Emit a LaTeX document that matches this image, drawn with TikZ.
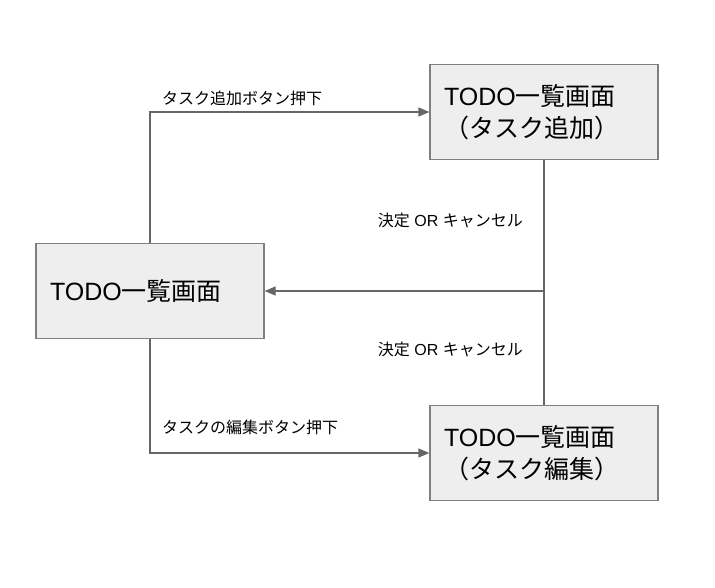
\documentclass[tikz,border=0pt]{standalone}
\usepackage{fontspec}
\setmainfont{Liberation Sans}
\newfontfamily\jp{Noto Sans CJK JP}
\usetikzlibrary{arrows.meta}
\definecolor{boxfill}{HTML}{EEEEEE}
\definecolor{boxline}{HTML}{7F7F7F}
\definecolor{arrline}{HTML}{666666}
\tikzset{
  screen/.style={draw=boxline, line width=1.2pt, fill=boxfill, minimum width=228pt, minimum height=95pt,
    text width=200pt, align=left, inner sep=0pt, font=\fontsize{25}{32}\selectfont},
  conn/.style={draw=arrline, line width=1.2pt},
  arr/.style={conn, -{Triangle[length=11pt,width=9pt]}},
  lbl/.style={font=\fontsize{16}{18}\selectfont, inner sep=0pt, text=black}
}
\begin{document}
\begin{tikzpicture}[x=1pt,y=-1pt]
\useasboundingbox (0,0) rectangle (715,587);
\node[screen] (A) at (150,291) {TODO{\jp 一覧画面}};
\node[screen] (B) at (544,112) {TODO{\jp 一覧画面}\\{\jp （タスク追加）}};
\node[screen] (C) at (544,453) {TODO{\jp 一覧画面}\\{\jp （タスク編集）}};
\coordinate (M) at (544,291);
\draw[arr] (A.north) |- (B.west);
\draw[arr] (A.south) |- (C.west);
\draw[conn] (B.south) -- (C.north);
\draw[arr] (M) -- (A.east);
\node[lbl, anchor=west] (L1) at (162,98) {\jp タスク追加ボタン押下};
\node[lbl, anchor=west] (L2) at (162,427) {\jp タスクの編集ボタン押下};
\node[lbl, anchor=east] (L3) at (523,220) {{\jp 決定} OR {\jp キャンセル}};
\node[lbl, anchor=east] (L4) at (523,349) {{\jp 決定} OR {\jp キャンセル}};
\end{tikzpicture}
\end{document}
